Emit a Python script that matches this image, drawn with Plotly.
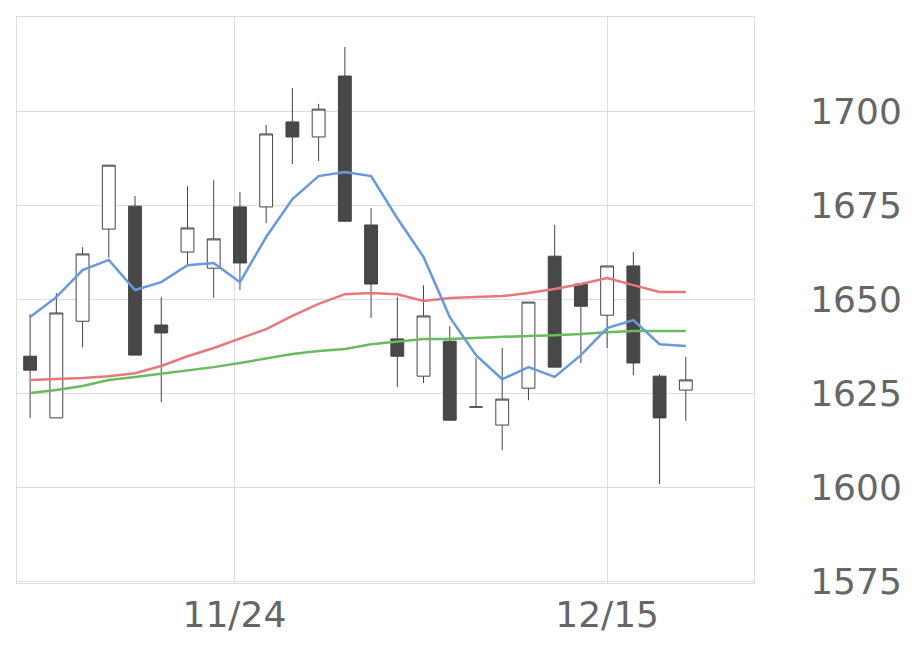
import plotly.graph_objects as go

idx = list(range(26))
opens  = [1634.8,1618.4,1644.1,1668.6,1674.7,1643.1,1662.5,1658.2,1674.5,1674.5,1697.1,1693.1,1709.3,1669.7,1639.4,1629.5,1638.8,1621.3,1616.5,1626.3,1661.4,1654.0,1645.7,1658.8,1629.5,1625.8]
highs  = [1646.0,1651.6,1663.8,1685.6,1677.4,1650.5,1680.0,1681.6,1678.5,1696.3,1706.1,1701.9,1717.0,1674.2,1650.5,1653.7,1642.8,1634.3,1637.0,1649.2,1669.7,1654.0,1658.8,1662.5,1630.0,1634.6]
lows   = [1618.4,1618.4,1637.2,1661.0,1635.1,1622.6,1658.8,1650.3,1652.4,1670.2,1685.9,1686.7,1670.7,1645.0,1626.6,1627.7,1617.8,1621.3,1609.8,1623.1,1631.9,1633.0,1637.0,1629.8,1600.8,1617.6]
closes = [1631.1,1646.3,1662.0,1685.6,1635.1,1641.0,1668.9,1666.0,1659.6,1693.9,1693.1,1700.5,1670.7,1654.0,1634.8,1645.5,1617.8,1621.3,1623.4,1649.2,1631.9,1648.1,1658.8,1633.0,1618.4,1628.5]
ma_short = [1645.2,1650.5,1657.7,1660.4,1652.4,1654.5,1659.0,1659.6,1654.5,1666.5,1676.6,1682.7,1683.8,1682.7,1671.5,1661.2,1645.2,1635.1,1628.7,1631.9,1629.3,1635.1,1642.3,1644.4,1638.0,1637.5]
ma_mid = [1628.5,1628.7,1629.0,1629.5,1630.3,1632.2,1634.8,1637.0,1639.4,1642.0,1645.5,1648.7,1651.3,1651.6,1651.3,1649.5,1650.3,1650.5,1650.8,1651.6,1652.7,1654.0,1655.6,1653.7,1651.9,1651.9]
ma_long = [1625.0,1625.8,1626.9,1628.5,1629.3,1630.1,1631.1,1631.9,1633.0,1634.3,1635.4,1636.2,1636.7,1638.0,1638.8,1639.4,1639.4,1639.6,1639.9,1640.2,1640.4,1640.7,1641.2,1641.5,1641.5,1641.5]
tick_pos = [7.79, 22]
tick_text = ["11/24", "12/15"]
y_ticks = [1575, 1600, 1625, 1650, 1675, 1700]

fig = go.Figure()
fig.add_trace(go.Scatter(x=idx, y=ma_long, mode="lines", line=dict(color="#6abb5e", width=2.5), showlegend=False))
fig.add_trace(go.Scatter(x=idx, y=ma_mid, mode="lines", line=dict(color="#e87878", width=2.5), showlegend=False))
fig.add_trace(go.Scatter(x=idx, y=ma_short, mode="lines", line=dict(color="#6699dd", width=2.5), showlegend=False))
fig.add_trace(go.Candlestick(x=idx, open=opens, high=highs, low=lows, close=closes,
    increasing=dict(fillcolor="white", line=dict(color="#444", width=1)),
    decreasing=dict(fillcolor="#484848", line=dict(color="#444", width=1)),
    whiskerwidth=0, showlegend=False))
fig.update_layout(width=920, height=669, margin=dict(l=9, r=174, t=9, b=94),
    plot_bgcolor="white", paper_bgcolor="white",
    font=dict(family="DejaVu Sans", size=36, color="#666"))
fig.update_xaxes(range=[-0.5, 27.6], tickvals=tick_pos, ticktext=tick_text, showgrid=True,
    gridcolor="#ddd", showline=True, linecolor="#ddd", mirror=True, rangeslider_visible=False,
    ticks="", zeroline=False)
fig.update_yaxes(range=[1574.5, 1725], side="right", tickvals=y_ticks, showgrid=True,
    gridcolor="#ddd", showline=True, linecolor="#ddd", mirror=True, ticks="outside",
    ticklen=48, tickcolor="rgba(0,0,0,0)", zeroline=False)
fig.write_html("out.html")
